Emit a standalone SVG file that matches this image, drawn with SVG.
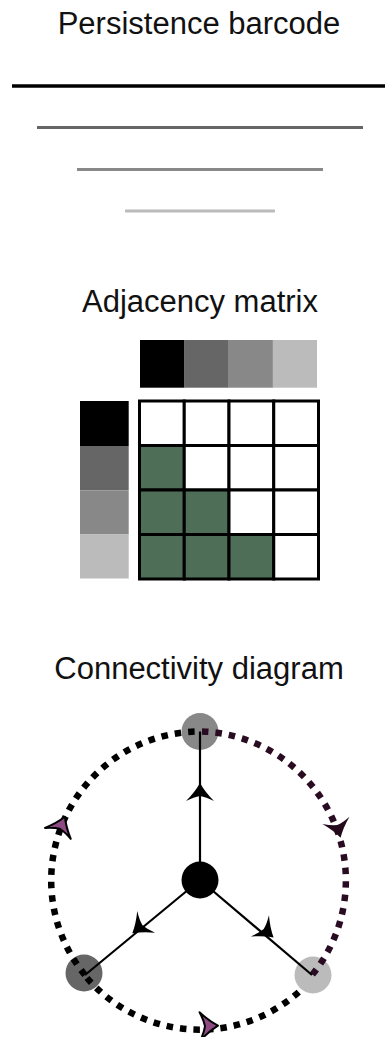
<svg xmlns="http://www.w3.org/2000/svg" xmlns:xlink="http://www.w3.org/1999/xlink" width="385" height="1037" viewBox="0 0 385 1037">
<style>
.title{font-family:"Liberation Sans",Arial,sans-serif;font-size:31px;fill:#111;text-anchor:middle}
.bar{stroke-width:3;fill:none}
.cell{stroke:#000;stroke-width:3}
.w{fill:#fff}
.g{fill:#4e6e58}
.dot{fill:none;stroke-width:6.5;stroke-dasharray:6.5 7}
.spoke{stroke:#000;stroke-width:2.2;fill:none}
.node{stroke:none}
.ahk{fill:#000}
.ahp{fill:#8e4a82;stroke:#000;stroke-width:2;stroke-linejoin:round}
.ahd{fill:#24091d}
</style>
<defs>
<path id="ah" d="M10,0 Q1,-5 -8,-14 Q-4,-6 -3,0 Q-4,6 -8,14 Q1,5 10,0 Z"/>
</defs>

<g id="barcode">
<text class="title" x="199" y="34">Persistence barcode</text>
<line x1="12" y1="86" x2="385" y2="86" stroke="#000" stroke-width="3.5"/>
<line class="bar" x1="37" y1="127.5" x2="363" y2="127.5" stroke="#666"/>
<line class="bar" x1="77" y1="169.5" x2="323" y2="169.5" stroke="#888"/>
<line class="bar" x1="125" y1="211" x2="275" y2="211" stroke="#bbb"/>
</g>

<g id="adjacency">
<text class="title" x="200" y="312">Adjacency matrix</text>
<g id="top-bar">
<rect x="140" y="340" width="44.5" height="47.7" fill="#000"/>
<rect x="184.25" y="340" width="44.5" height="47.7" fill="#666"/>
<rect x="228.5" y="340" width="44.5" height="47.7" fill="#888"/>
<rect x="272.75" y="340" width="44.25" height="47.7" fill="#bbb"/>
</g>
<g id="left-bar">
<rect x="80" y="401" width="48.7" height="45" fill="#000"/>
<rect x="80" y="446" width="48.7" height="44.5" fill="#666"/>
<rect x="80" y="490.5" width="48.7" height="44" fill="#888"/>
<rect x="80" y="534.5" width="48.7" height="44" fill="#bbb"/>
</g>
<g id="matrix">
<rect class="cell w" x="139.5" y="401" width="44.75" height="44.5"/>
<rect class="cell w" x="184.25" y="401" width="44.75" height="44.5"/>
<rect class="cell w" x="229" y="401" width="44.75" height="44.5"/>
<rect class="cell w" x="273.75" y="401" width="44.75" height="44.5"/>
<rect class="cell g" x="139.5" y="445.5" width="44.75" height="44.5"/>
<rect class="cell w" x="184.25" y="445.5" width="44.75" height="44.5"/>
<rect class="cell w" x="229" y="445.5" width="44.75" height="44.5"/>
<rect class="cell w" x="273.75" y="445.5" width="44.75" height="44.5"/>
<rect class="cell g" x="139.5" y="490" width="44.75" height="44.5"/>
<rect class="cell g" x="184.25" y="490" width="44.75" height="44.5"/>
<rect class="cell w" x="229" y="490" width="44.75" height="44.5"/>
<rect class="cell w" x="273.75" y="490" width="44.75" height="44.5"/>
<rect class="cell g" x="139.5" y="534.5" width="44.75" height="44.5"/>
<rect class="cell g" x="184.25" y="534.5" width="44.75" height="44.5"/>
<rect class="cell g" x="229" y="534.5" width="44.75" height="44.5"/>
<rect class="cell w" x="273.75" y="534.5" width="44.75" height="44.5"/>
</g>
</g>

<text class="title" x="199" y="679">Connectivity diagram</text>

<g id="node-top"><circle class="node" cx="200" cy="731.5" r="18.5" fill="#888"/></g>
<g id="node-left"><circle class="node" cx="84" cy="973" r="18.5" fill="#666"/></g>
<g id="node-right"><circle class="node" cx="313" cy="975" r="18.5" fill="#bbb"/></g>

<g id="connectors">
<path class="dot" stroke="#000" d="M85,975 A149,149 0 0 1 200,731.5"/>
<path class="dot" stroke="#2a0c22" d="M202,731.5 A149,149 0 0 1 312,975"/>
<path class="dot" stroke="#000" d="M87,978 A149,149 0 0 0 301,990"/>
<line class="spoke" x1="200" y1="880" x2="200" y2="731.5"/>
<line class="spoke" x1="200" y1="880" x2="85" y2="975"/>
<line class="spoke" x1="200" y1="880" x2="312" y2="975"/>
<use xlink:href="#ah" class="ahk" transform="translate(200,793) rotate(-90)"/>
<use xlink:href="#ah" class="ahk" transform="translate(140,927) rotate(140.4)"/>
<use xlink:href="#ah" class="ahk" transform="translate(266,931) rotate(40.3)"/>
<use xlink:href="#ah" class="ahp" transform="translate(61,826) rotate(-67)"/>
<use xlink:href="#ah" class="ahd" transform="translate(338,828) rotate(75)"/>
<use xlink:href="#ah" class="ahp" transform="translate(208,1026) rotate(-2)"/>
</g>

<g id="node-center"><circle class="node" cx="200" cy="880" r="18.5" fill="#000"/></g>
</svg>
